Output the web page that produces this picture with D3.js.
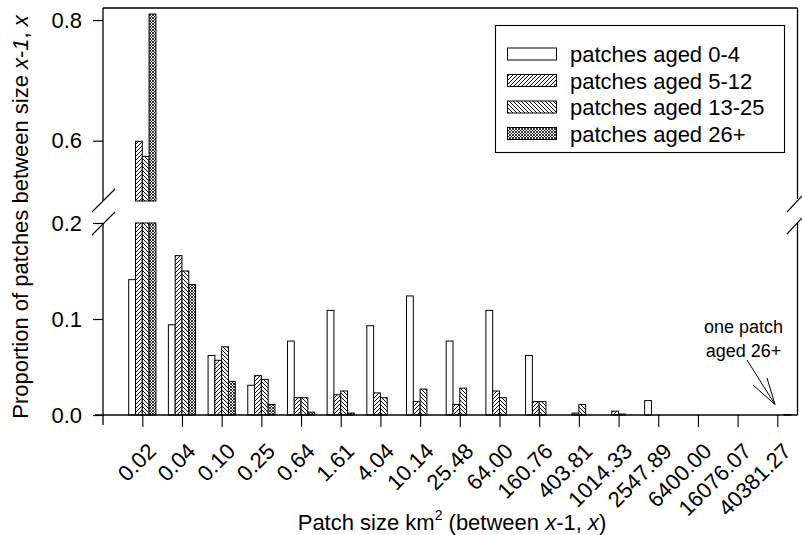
<!DOCTYPE html>
<html><head><meta charset="utf-8">
<script src="https://cdn.jsdelivr.net/npm/d3@7"></script>
<style>
body{margin:0;background:#fff;}
svg{display:block;font-family:"Liberation Sans",Arial,sans-serif;}
</style></head>
<body><svg id="c" width="802" height="535"></svg>
<script>
const categories = ["0.02","0.04","0.10","0.25","0.64","1.61","4.04","10.14","25.48","64.00","160.76","403.81","1014.33","2547.89","6400.00","16076.07","40381.27"];
const seriesNames = ["patches aged 0-4","patches aged 5-12","patches aged 13-25","patches aged 26+"];
const aged0_4   = [0.141,0.094,0.062,0.031,0.077,0.109,0.093,0.124,0.077,0.109,0.062,0,0,0.015,0,0,0];
const aged5_12  = [0.599,0.166,0.057,0.041,0.018,0.021,0.023,0.014,0.011,0.025,0.014,0.002,0.004,0,0,0,0];
const aged13_25 = [0.574,0.150,0.071,0.037,0.018,0.025,0.018,0.027,0.028,0.018,0.014,0.011,0.001,0,0,0,0];
const aged26    = [0.810,0.136,0.035,0.011,0.003,0.002,0,0,0,0,0,0,0,0,0,0,0.0005];
const lowTicks = [0.0,0.1,0.2];
const highTicks = [0.6,0.8];

const seriesValues = [aged0_4, aged5_12, aged13_25, aged26];
const fills = ["#fff","url(#p512)","url(#p1325)","url(#p26)"];
const FS = 22;

const svg = d3.select("#c");
const defs = svg.append("defs");
const p1 = defs.append("pattern").attr("id","p512").attr("patternUnits","userSpaceOnUse").attr("width",4).attr("height",4);
p1.append("rect").attr("width",4).attr("height",4).attr("fill","#fff");
p1.append("path").attr("d","M-1,1 L1,-1 M0,4 L4,0 M3,5 L5,3").attr("stroke","#000").attr("stroke-width",1);
const p2 = defs.append("pattern").attr("id","p1325").attr("patternUnits","userSpaceOnUse").attr("width",4).attr("height",4);
p2.append("rect").attr("width",4).attr("height",4).attr("fill","#fff");
p2.append("path").attr("d","M-1,3 L1,5 M0,0 L4,4 M3,-1 L5,1").attr("stroke","#000").attr("stroke-width",1);
const p3 = defs.append("pattern").attr("id","p26").attr("patternUnits","userSpaceOnUse").attr("width",3).attr("height",3);
p3.append("rect").attr("width",3).attr("height",3).attr("fill","#fff");
p3.append("path").attr("d","M0,3 L3,0 M-1,1 L1,-1 M2,4 L4,2 M0,0 L3,3 M-1,2 L1,4 M2,-1 L4,1").attr("stroke","#000").attr("stroke-width",0.8);

const leftX = 103, rightX = 797.5, topY = 8;
const x = d3.scalePoint().domain(categories).range([142.3, 777.3]);
const inner = d3.scaleBand().domain(d3.range(4)).range([-13.6, 13.6]);
const yLow = d3.scaleLinear().domain([0,0.2]).range([415,223]);
const yHigh = d3.scaleLinear().domain([0.5,0.82]).range([201,8]);

const bars = [];
seriesValues.forEach((vals,s)=>vals.forEach((v,i)=>{ if(v>0) bars.push({s,i,v}); }));
const g = svg.append("g");
bars.forEach(b=>{
  const bx = x(categories[b.i]) + inner(b.s), bw = inner.bandwidth();
  const lowV = Math.min(b.v, 0.2);
  g.append("rect").attr("x",bx).attr("y",yLow(lowV)).attr("width",bw).attr("height",yLow(0)-yLow(lowV))
    .attr("fill",fills[b.s]).attr("stroke","#000").attr("stroke-width",1);
  if(b.v>0.5){
    g.append("rect").attr("x",bx).attr("y",yHigh(b.v)).attr("width",bw).attr("height",yHigh(0.5)-yHigh(b.v))
      .attr("fill",fills[b.s]).attr("stroke","#000").attr("stroke-width",1);
  }
});

const line = (x1,y1,x2,y2,w=1.3)=>svg.append("line").attr("x1",x1).attr("y1",y1).attr("x2",x2).attr("y2",y2).attr("stroke","#000").attr("stroke-width",w);
line(leftX,topY,rightX,topY);
line(leftX,topY,leftX,yHigh(0.5));
line(leftX,yLow(0.2),leftX,425);
line(rightX,topY,rightX,199);
line(rightX,223,rightX,yLow(0));
line(leftX-8,yLow(0),rightX,yLow(0));
line(92,212,115,189,1.1); line(92,235,115,212,1.1);
line(787,212,802,196,1.1); line(787,234,802,218,1.1);

const axLow = d3.axisLeft(yLow).tickValues(lowTicks).tickFormat(d3.format(".1f")).tickSize(10).tickPadding(11);
const axHigh = d3.axisLeft(yHigh).tickValues(highTicks).tickFormat(d3.format(".1f")).tickSize(10).tickPadding(11);
[axLow,axHigh].forEach(axis=>{
  const a = svg.append("g").attr("transform",`translate(${leftX},0)`).call(axis);
  a.select(".domain").remove();
  a.selectAll("line").attr("stroke","#000").attr("stroke-width",1.2);
  a.selectAll("text").attr("font-size",FS).attr("font-family","Liberation Sans, Arial, sans-serif").attr("fill","#000");
});

const ax = svg.append("g").attr("transform",`translate(0,${yLow(0)})`).call(d3.axisBottom(x).tickSize(12).tickPadding(0));
ax.select(".domain").remove();
ax.selectAll("line").attr("stroke","#000").attr("stroke-width",1.1);
ax.selectAll("text").attr("font-size",FS).attr("font-family","Liberation Sans, Arial, sans-serif").attr("fill","#000")
  .attr("text-anchor","end").attr("dy",null).attr("transform","translate(6,29) rotate(-45)");

const xt = svg.append("text").attr("x",452).attr("y",530).attr("text-anchor","middle").attr("font-size",FS);
xt.append("tspan").text("Patch size km");
xt.append("tspan").attr("font-size",14).attr("dy",-10).text("2");
xt.append("tspan").attr("dy",10).text(" (between ");
xt.append("tspan").attr("font-style","italic").text("x");
xt.append("tspan").text("-1, ");
xt.append("tspan").attr("font-style","italic").text("x");
xt.append("tspan").text(")");

const yt = svg.append("text").attr("transform","translate(28,217) rotate(-90)").attr("text-anchor","middle").attr("font-size",FS);
yt.append("tspan").text("Proportion of patches between size ");
yt.append("tspan").attr("font-style","italic").text("x");
yt.append("tspan").text("-");
yt.append("tspan").attr("font-style","italic").text("1");
yt.append("tspan").text(", ");
yt.append("tspan").attr("font-style","italic").text("x");

svg.append("rect").attr("x",495.5).attr("y",25.5).attr("width",289).attr("height",127).attr("fill","#fff").attr("stroke","#000").attr("stroke-width",1.1);
seriesNames.forEach((n,i)=>{
  const cy = 54 + i*26.5;
  svg.append("rect").attr("x",507.5).attr("y",cy-6).attr("width",49).attr("height",12).attr("fill",fills[i]).attr("stroke","#000").attr("stroke-width",1);
  svg.append("text").attr("x",570).attr("y",cy+8).attr("font-size",FS).text(n);
});

svg.append("text").attr("x",743.5).attr("y",333).attr("text-anchor","middle").attr("font-size",18).text("one patch");
svg.append("text").attr("x",743.5).attr("y",357).attr("text-anchor","middle").attr("font-size",18).text("aged 26+");
const tip = [775, yLow(0.0005)-10];
line(747,360,tip[0],tip[1],1); line(753,385,tip[0],tip[1],1); line(767,378,tip[0],tip[1],1);
</script></body></html>
